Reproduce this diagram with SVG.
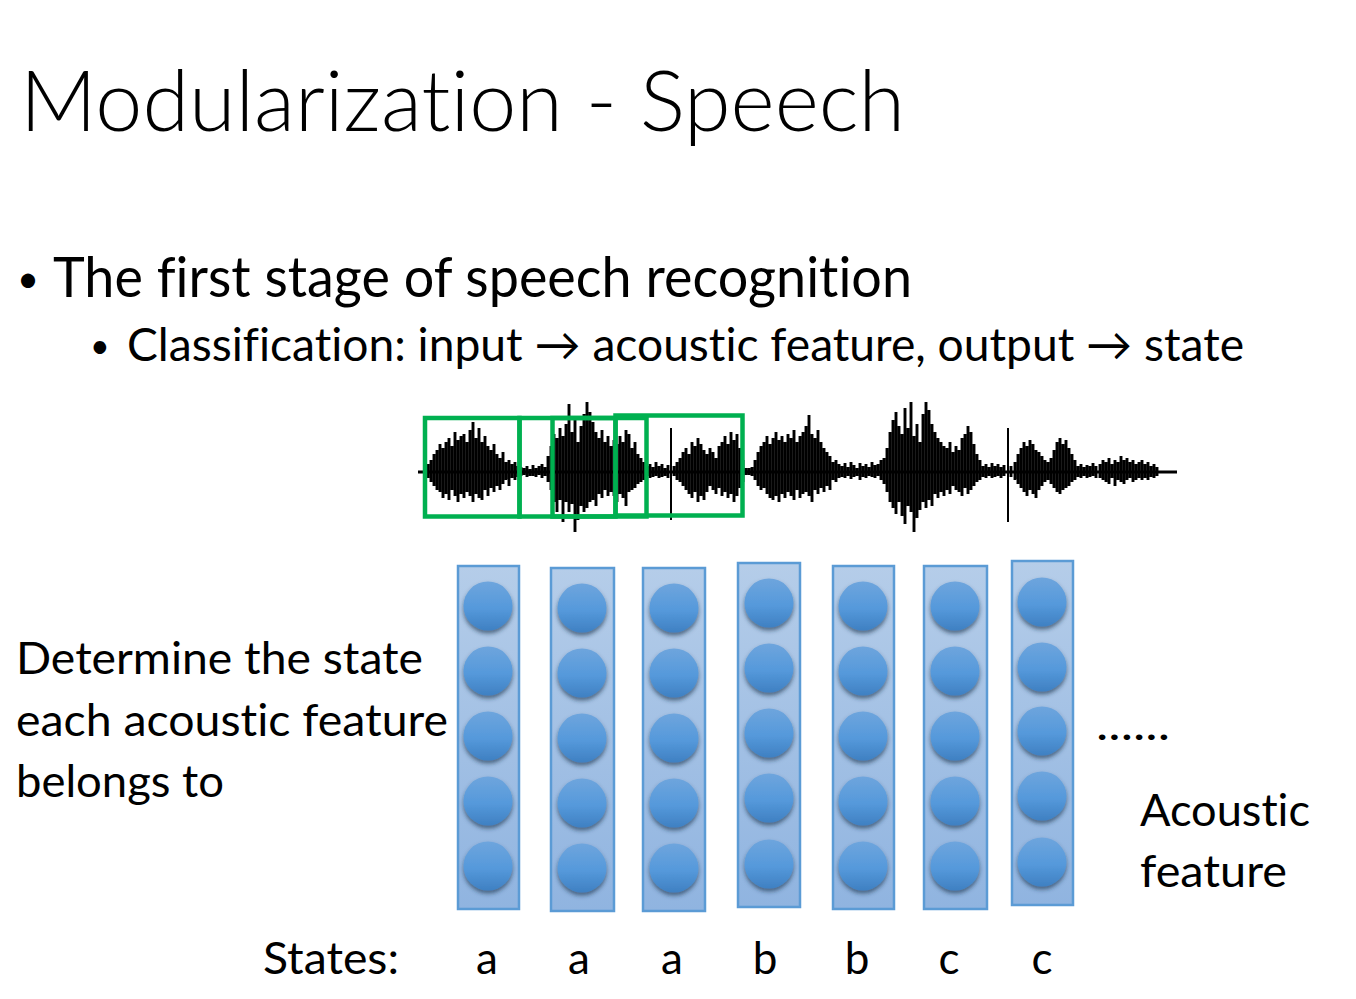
<svg xmlns="http://www.w3.org/2000/svg" width="1356" height="999" viewBox="0 0 1356 999">
<defs>
<style>
text{font-family:Lato,"Open Sans","Liberation Sans",sans-serif;fill:#000;font-variant-ligatures:none;font-feature-settings:"liga" 0,"clig" 0,"dlig" 0}
.t{font-size:84px;font-weight:300}
.b1{font-size:56px}
.b2{font-size:46px}
.m{font-size:44px}
.col{fill:url(#colg);stroke:#5b9bd5;stroke-width:2.5}
.n{fill:url(#cg);filter:url(#sh)}
.gb{fill:none;stroke:#00b050;stroke-width:4.5}
</style>
<linearGradient id="colg" x1="0" y1="0" x2="0" y2="1">
<stop offset="0" stop-color="#b5cde9"/><stop offset="1" stop-color="#90b4e0"/>
</linearGradient>
<linearGradient id="cg" x1="0" y1="0" x2="0" y2="1">
<stop offset="0" stop-color="#6ea5dd"/><stop offset="0.55" stop-color="#5599db"/><stop offset="1" stop-color="#3f80c2"/>
</linearGradient>
<filter id="sh" x="-30%" y="-30%" width="160%" height="170%">
<feDropShadow dx="0" dy="3" stdDeviation="2.2" flood-color="#1d3550" flood-opacity="0.65"/>
</filter>
</defs>
<rect width="1356" height="999" fill="#fff"/>

<g id="title"><text class="t" x="20" y="131" textLength="885" lengthAdjust="spacingAndGlyphs">Modularization - Speech</text></g>
<g id="bullet1"><text x="17" y="292" style="font-size:38px">•</text><text class="b1" x="53" y="297" textLength="859" lengthAdjust="spacingAndGlyphs">The first stage of speech recognition</text></g>
<g id="bullet2"><text x="90" y="358" style="font-size:34px">•</text><text class="b2" x="127" y="361" textLength="1117" lengthAdjust="spacingAndGlyphs">Classification: input → acoustic feature, output → state</text></g>

<g id="waveform">
<path d="M418 472H1177" stroke="#000" stroke-width="3"/>
<path fill="none" stroke="#000" stroke-width="2.9" d="M428 464V478M431 460V482M434 454V486M437 450V490M440 444V492M443 448V498M446 442V494M449 438V500M452 446V490M455 432V496M458 440V502M461 436V494M464 434V498M467 442V492M470 430V496M473 422V502M476 438V494M479 428V498M482 442V500M485 436V490M488 446V496M491 450V488M494 444V492M497 454V486M500 458V490M503 452V484M506 462V480M509 460V486M512 464V478M515 462V480M518 466V477M521 467V476M524 468V475M527 466V477M530 469V476M533 465V476M536 468V477M539 466V475M542 464V478M545 467V476M548 456V482M551 446V490M554 434V502M557 438V512M560 428V500M563 436V522M566 424V502M569 404V512M572 432V504M575 418V532M578 442V520M581 426V506M584 414V512M587 402V508M590 412V502M593 422V500M596 432V506M599 438V494M602 430V498M605 442V490M608 436V496M611 446V492M614 440V496M617 444V502M620 436V494M623 442V498M626 430V506M629 434V492M632 448V490M635 442V488M638 454V484M641 458V482M644 462V480M647 466V476M650 464V478M653 467V477M656 462V476M659 466V478M662 464V477M665 468V476M668 465V478M674 466V476M677 462V480M680 458V482M683 452V486M686 448V490M689 454V494M692 442V498M695 446V492M698 438V502M701 444V496M704 450V500M707 454V492M710 448V486M713 452V490M716 458V494M719 446V488M722 442V496M725 436V492M728 444V498M731 432V494M734 440V502M737 434V496M740 448V488M743 460V482M746 468V475M749 468V475M752 467V476M755 460V480M758 452V486M761 446V490M764 442V488M767 436V494M770 444V498M773 438V500M776 432V496M779 440V502M782 436V494M785 442V498M788 434V492M791 438V496M794 430V500M797 442V490M800 436V498M803 432V494M806 426V492M809 415V496M812 434V502M815 438V490M818 430V494M821 442V488M824 448V492M827 452V486M830 456V490M833 462V480M836 460V482M839 464V478M842 466V477M845 463V478M848 467V476M851 462V479M854 465V477M857 468V476M860 463V480M863 466V477M866 464V478M869 467V476M872 462V477M875 465V478M878 464V476M881 460V480M884 458V484M887 448V492M890 432V502M893 420V508M896 412V514M899 426V502M902 434V516M905 408V524M908 428V506M911 402V512M914 436V532M917 424V518M920 442V510M923 414V502M926 402V508M929 410V500M932 424V506M935 432V494M938 438V498M941 442V492M944 446V496M947 448V490M950 442V494M953 452V486M956 446V490M959 450V492M962 438V496M965 434V488M968 426V494M971 432V490M974 444V486M977 454V482M980 460V480M983 466V477M986 464V478M989 467V476M992 463V478M995 466V477M998 464V476M1001 467V478M1004 465V476M1011 466V477M1015 462V480M1018 454V484M1021 448V488M1024 442V492M1027 446V496M1030 440V490M1033 444V494M1036 450V498M1039 452V490M1042 456V486M1045 460V482M1048 462V480M1051 458V484M1054 450V488M1057 442V492M1060 438V494M1063 444V490M1066 440V488M1069 448V486M1072 454V482M1075 460V480M1078 466V477M1081 464V478M1084 467V476M1087 465V478M1090 466V477M1093 463V476M1096 466V478M1100 464V478M1103 460V480M1106 462V482M1109 458V484M1112 464V478M1115 460V486M1118 462V480M1121 456V482M1124 460V484M1127 458V480M1130 462V478M1133 460V482M1136 464V480M1139 462V478M1142 460V480M1145 464V478M1148 462V480M1151 466V477M1154 464V478M1157 467V476"/>
<path fill="none" stroke="#000" stroke-width="2" d="M671 428V520M1008 428V522"/>
</g>

<g id="windows">
<rect class="gb" x="425" y="418" width="94.5" height="98.5"/>
<rect class="gb" x="519.5" y="418" width="96" height="98.5"/>
<rect class="gb" x="552.5" y="418" width="94" height="98.5"/>
<rect class="gb" x="615.5" y="415.5" width="127" height="100"/>
</g>

<g id="col1"><rect class="col" x="458" y="566" width="61" height="343"/>
<circle class="n" cx="488" cy="606" r="24.5"/><circle class="n" cx="488" cy="671" r="24.5"/><circle class="n" cx="488" cy="736" r="24.5"/><circle class="n" cx="488" cy="801" r="24.5"/><circle class="n" cx="488" cy="866" r="24.5"/></g>
<g id="col2"><rect class="col" x="551" y="568" width="63" height="343"/>
<circle class="n" cx="582" cy="608" r="24.5"/><circle class="n" cx="582" cy="673" r="24.5"/><circle class="n" cx="582" cy="738" r="24.5"/><circle class="n" cx="582" cy="803" r="24.5"/><circle class="n" cx="582" cy="868" r="24.5"/></g>
<g id="col3"><rect class="col" x="643" y="568" width="62" height="343"/>
<circle class="n" cx="674" cy="608" r="24.5"/><circle class="n" cx="674" cy="673" r="24.5"/><circle class="n" cx="674" cy="738" r="24.5"/><circle class="n" cx="674" cy="803" r="24.5"/><circle class="n" cx="674" cy="868" r="24.5"/></g>
<g id="col4"><rect class="col" x="738" y="563" width="62" height="344"/>
<circle class="n" cx="769" cy="603" r="24.5"/><circle class="n" cx="769" cy="668" r="24.5"/><circle class="n" cx="769" cy="733" r="24.5"/><circle class="n" cx="769" cy="798" r="24.5"/><circle class="n" cx="769" cy="864" r="24.5"/></g>
<g id="col5"><rect class="col" x="833" y="566" width="61" height="343"/>
<circle class="n" cx="863" cy="606" r="24.5"/><circle class="n" cx="863" cy="671" r="24.5"/><circle class="n" cx="863" cy="736" r="24.5"/><circle class="n" cx="863" cy="801" r="24.5"/><circle class="n" cx="863" cy="866" r="24.5"/></g>
<g id="col6"><rect class="col" x="924" y="566" width="63" height="343"/>
<circle class="n" cx="955" cy="606" r="24.5"/><circle class="n" cx="955" cy="671" r="24.5"/><circle class="n" cx="955" cy="736" r="24.5"/><circle class="n" cx="955" cy="801" r="24.5"/><circle class="n" cx="955" cy="866" r="24.5"/></g>
<g id="col7"><rect class="col" x="1012" y="561" width="61" height="344"/>
<circle class="n" cx="1042" cy="602" r="24.5"/><circle class="n" cx="1042" cy="667" r="24.5"/><circle class="n" cx="1042" cy="731" r="24.5"/><circle class="n" cx="1042" cy="796" r="24.5"/><circle class="n" cx="1042" cy="862" r="24.5"/></g>

<g id="connectors"></g>

<g id="label-left">
<text class="m" x="16" y="674" textLength="407" lengthAdjust="spacingAndGlyphs">Determine the state</text>
<text class="m" x="16" y="736" textLength="432" lengthAdjust="spacingAndGlyphs">each acoustic feature</text>
<text class="m" x="16" y="797" textLength="208" lengthAdjust="spacingAndGlyphs">belongs to</text>
</g>
<g id="dots"><text class="m" x="1096" y="740" textLength="74" lengthAdjust="spacingAndGlyphs">......</text></g>
<g id="label-right">
<text class="m" x="1140" y="826" textLength="170" lengthAdjust="spacingAndGlyphs">Acoustic</text>
<text class="m" x="1140" y="887" textLength="147" lengthAdjust="spacingAndGlyphs">feature</text>
</g>
<g id="states">
<text class="m" x="263" y="974" textLength="136" lengthAdjust="spacingAndGlyphs">States:</text>
<g text-anchor="middle">
<text class="m" x="487" y="974">a</text><text class="m" x="579" y="974">a</text><text class="m" x="672" y="974">a</text><text class="m" x="765" y="974">b</text><text class="m" x="857" y="974">b</text><text class="m" x="949" y="974">c</text><text class="m" x="1042" y="974">c</text>
</g>
</g>
</svg>
